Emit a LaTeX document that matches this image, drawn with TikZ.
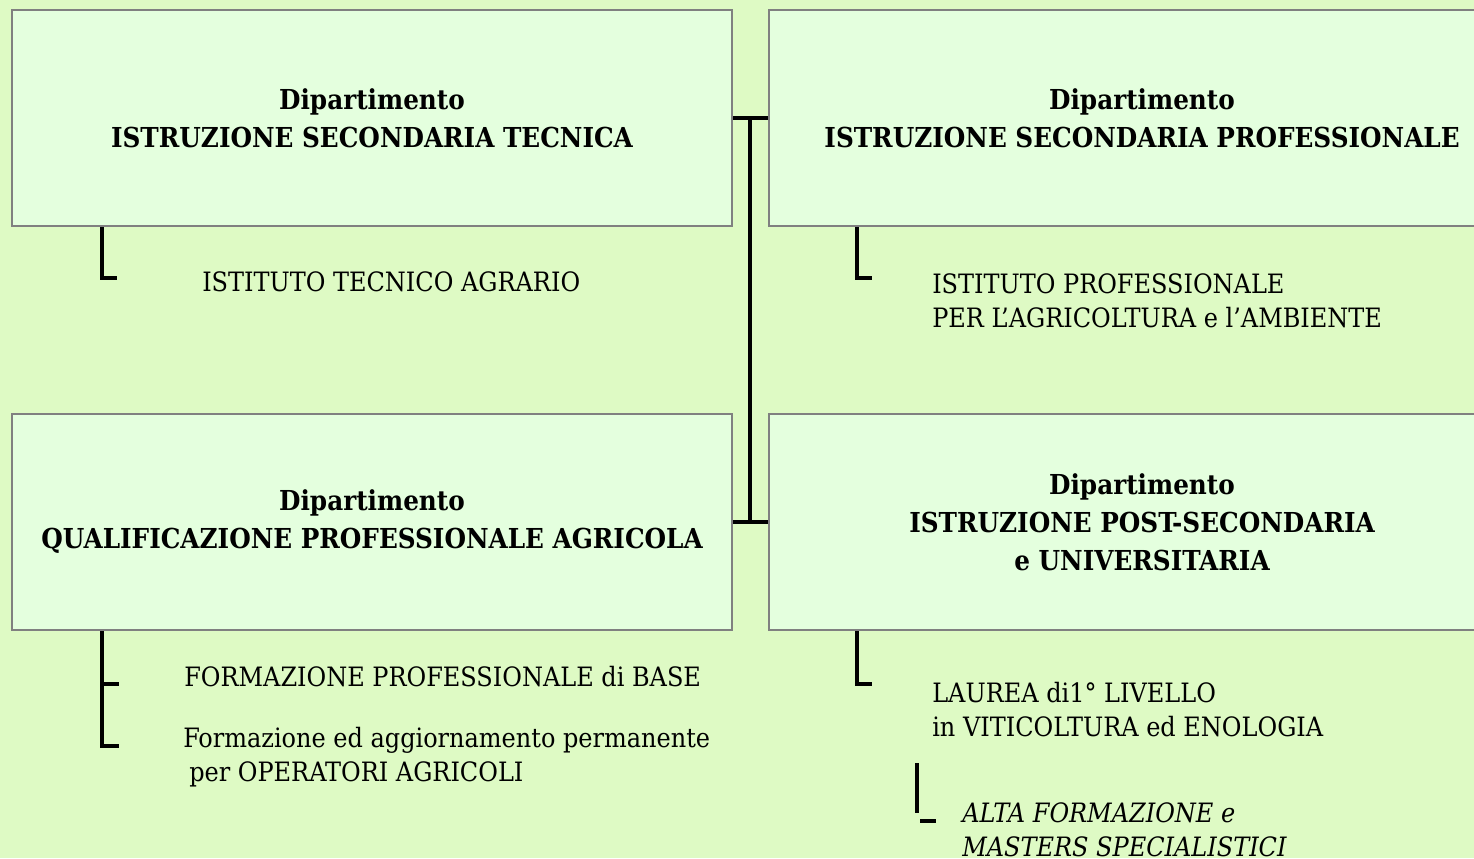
\documentclass[tikz,border=0pt]{standalone}
\usepackage{fontspec}
\setmainfont{DejaVu Serif Condensed}
\usetikzlibrary{positioning}
\definecolor{bgreen}{RGB}{222,250,196}
\definecolor{boxgreen}{RGB}{228,255,222}
\tikzset{dept/.style={draw=black!50, line width=1.5pt, fill=boxgreen, align=center,
   minimum width=540pt, minimum height=162pt, inner sep=0pt,
   font=\fontsize{20.6}{28.5}\selectfont\bfseries},
 wide/.style={minimum width=559.5pt},
 item/.style={anchor=base west, align=left, inner sep=0pt,
   font=\fontsize{20}{25.5}\selectfont},
 bracket/.style={draw=black, line width=3pt},
}
\begin{document}
\begin{tikzpicture}[x=0.75pt, y=-0.75pt]
        \clip (0,0) rectangle (1474,858);
        \fill[bgreen] (0,0) rectangle (1474,858);

        % departments
        \node[dept] (tecnica) at (372,118) {Dipartimento\\ISTRUZIONE SECONDARIA TECNICA};
        \node[dept, wide] (professionale) at (1142,118) {Dipartimento\\ISTRUZIONE SECONDARIA PROFESSIONALE};
        \node[dept] (qualifica) at (372,522) {Dipartimento\\QUALIFICAZIONE PROFESSIONALE AGRICOLA};
        \node[dept, wide] (universita) at (1142,522) {Dipartimento\\ISTRUZIONE POST-SECONDARIA\\e UNIVERSITARIA};

        \coordinate (spine) at (750,118);
        \draw[bracket] (tecnica.east) -- (professionale.west);
        \draw[bracket] (qualifica.east) -- (universita.west);
        \draw[bracket] (spine) -- (spine |- qualifica.east);

        % schools
        \node[item] (agrario) at (202,291) {ISTITUTO TECNICO AGRARIO};
        \node[item] (ambiente) at (932,327) {ISTITUTO PROFESSIONALE\\PER L'AGRICOLTURA e l’AMBIENTE};
        \node[item] (base) at (184,686) {FORMAZIONE PROFESSIONALE di BASE};
        \node[item] (permanente) at (183,781) {Formazione ed aggiornamento permanente\\\hspace{4.5pt}per OPERATORI AGRICOLI};
        \node[item] (laurea) at (932,736) {LAUREA di1° LIVELLO\\in VITICOLTURA ed ENOLOGIA};
        \node[item, font=\fontsize{20}{25.5}\selectfont\itshape] (master) at (962,856) {ALTA FORMAZIONE e\\MASTERS SPECIALISTICI};

        \draw[bracket] (tecnica.south west) ++(91,0) |- ++(15,51);
        \draw[bracket] (professionale.south west) ++(89,0) |- ++(15,51);
        \draw[bracket] (qualifica.south west) ++(91,0) |- ++(17,115);
        \draw[bracket] (qualifica.south west) ++(91,53) -- ++(17,0);
        \draw[bracket] (universita.south west) ++(89,0) |- ++(15,53);
        \coordinate (alta) at (917,763);
        \draw[bracket] (alta) -- ++(0,50);
        \draw[bracket] (alta) ++(3,58) -- ++(16,0);
\end{tikzpicture}
\end{document}
